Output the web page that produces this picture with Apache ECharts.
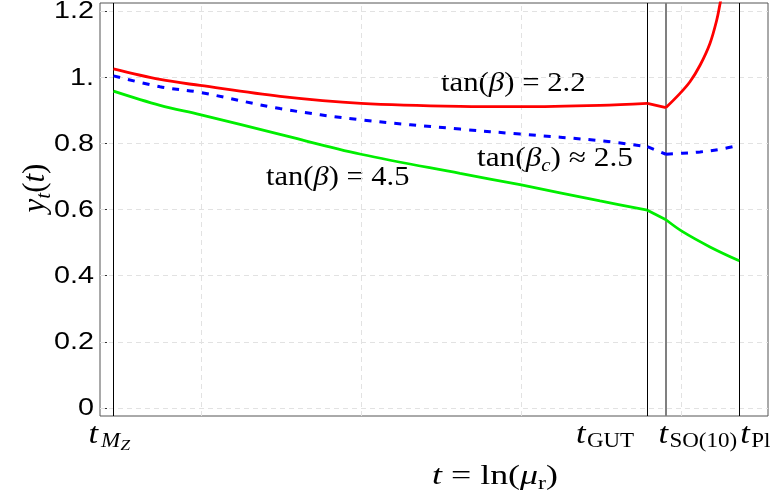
<!DOCTYPE html>
<html><head><meta charset="utf-8">
<script src="https://cdn.jsdelivr.net/npm/echarts@6/dist/echarts.min.js"></script>
<style>html,body{margin:0;padding:0;background:#fff}#c{width:783px;height:498px}</style>
</head><body><div id="c"></div>
<script>
// ---- data ----
const tMZ = 4.53, tGUT = 37.9, tSO10 = 39.06, tPl = 43.64;
const xMin = 3.6875, xMax = 45.4375;
const yMin = -0.0242, yMax = 1.2242;
const yTicks = [0, 0.2, 0.4, 0.6, 0.8, 1.0, 1.2];
const yTickLabels = ['0', '0.2', '0.4', '0.6', '0.8', '1.', '1.2'];
const xGridT = [10, 20, 30, 40];
const xTickT = [tMZ, tGUT, tSO10, tPl];

const redT = [4.53, 7.44, 9.94, 14.94, 20, 26.19, 29.94, 34.94, 37.9, 39.06, 39.94, 40.56, 41.19, 41.81, 42.23, 42.44, 42.6];
const redY = [1.025, 0.993, 0.975, 0.942, 0.921, 0.912, 0.911, 0.915, 0.921, 0.908, 0.951, 0.986, 1.036, 1.102, 1.172, 1.222, 1.26];

const blueT = [4.53, 7.44, 9.94, 14.94, 20, 26.19, 29.94, 34.94, 37.9, 39.06, 40.1, 41.19, 42.44, 43.64];
const blueY = [1.004, 0.971, 0.954, 0.905, 0.871, 0.843, 0.828, 0.808, 0.790, 0.767, 0.770, 0.774, 0.782, 0.794];

const greenT = [4.53, 7.44, 9.94, 14.94, 20, 26.19, 29.94, 34.94, 37.9, 39.06, 40.1, 41.81, 43.64];
const greenY = [0.958, 0.915, 0.887, 0.827, 0.767, 0.709, 0.675, 0.626, 0.598, 0.569, 0.533, 0.487, 0.445];

// ---- layout / styling ----
const SERIF = 'Liberation Serif';
const SANS = 'Liberation Sans';
const xTickParts = [
  [{s: 't', it: true, z: 30, dx: -25, dy: 19}, {s: 'M', it: true, z: 20, dx: -12.5, dy: 25.5}, {s: 'Z', it: true, z: 15, dx: 7, dy: 30.5}],
  [{s: 't', it: true, z: 30, dx: -71.5, dy: 19}, {s: 'GUT', it: false, z: 20, dx: -60.5, dy: 25.5}],
  [{s: 't', it: true, z: 30, dx: -7.5, dy: 19}, {s: 'SO(10)', it: false, z: 20, dx: 3.5, dy: 25.5}],
  [{s: 't', it: true, z: 30, dx: 1, dy: 19}, {s: 'Pl', it: false, z: 20, dx: 12, dy: 25.5}]
];
const TICK_SCALE = 1.15;

const richStyles = {
  r: {fontFamily: SERIF, fontSize: 27, verticalAlign: 'middle'},
  i: {fontFamily: SERIF, fontSize: 27, fontStyle: 'italic', verticalAlign: 'middle'},
  si: {fontFamily: SERIF, fontSize: 18, fontStyle: 'italic', verticalAlign: 'middle', padding: [14, 0, 0, 0]},
  s: {fontFamily: SERIF, fontSize: 18, verticalAlign: 'middle', padding: [14, 0, 0, 0]}
};
const richY = {
  r: {fontFamily: SERIF, fontSize: 31, verticalAlign: 'middle'},
  i: {fontFamily: SERIF, fontSize: 31, fontStyle: 'italic', verticalAlign: 'middle'},
  si: {fontFamily: SERIF, fontSize: 21, fontStyle: 'italic', verticalAlign: 'middle', padding: [16, 0, 0, 0]}
};

const pair = (a, b) => a.map((v, i) => [v, b[i]]);
// split a curve at the threshold scales (kinks) into three pieces
function pieces(T, Y) {
  const pts = pair(T, Y);
  return [
    {d: pts.filter(p => p[0] <= tGUT + 1e-9), smooth: 0.35},
    {d: pts.filter(p => p[0] >= tGUT - 1e-9 && p[0] <= tSO10 + 1e-9), smooth: false},
    {d: pts.filter(p => p[0] >= tSO10 - 1e-9), smooth: 0.35}
  ];
}

const curves = [
  {name: 'tan(β)=4.5', T: greenT, Y: greenY, style: {color: '#00ee00', width: 2.8}},
  {name: 'tan(β)=2.2', T: redT, Y: redY, style: {color: '#ff0000', width: 2.8}},
  {name: 'tan(βc)≈2.5', T: blueT, Y: blueY, style: {color: '#0000ff', width: 3, type: [7, 8]}}
];
const curveSeries = [];
curves.forEach(c => {
  pieces(c.T, c.Y).forEach(pc => {
    curveSeries.push({name: c.name, type: 'line', data: pc.d, showSymbol: false, smooth: pc.smooth, z: 5,
      lineStyle: c.style, silent: true});
  });
});

const chart = echarts.init(document.getElementById('c'), null, {renderer: 'canvas'});

const hGrid = yTicks.map(v => ({yAxis: v}));
const vGrid = xGridT.map(v => ({xAxis: v}));
const vLines = [
  {xAxis: tMZ, lineStyle: {color: '#000', width: 1, type: 'solid'}},
  {xAxis: tGUT, lineStyle: {color: '#000', width: 1, type: 'solid'}},
  {xAxis: tSO10, lineStyle: {color: '#808080', width: 2, type: 'solid'}},
  {xAxis: tPl, lineStyle: {color: '#000', width: 1, type: 'solid'}}
];

chart.setOption({
  animation: false,
  grid: {left: 100, right: 15, top: 3, bottom: 82, show: true, borderColor: '#555', borderWidth: 1, backgroundColor: 'transparent'},
  xAxis: {type: 'value', min: xMin, max: xMax, axisLine: {show: false}, axisTick: {show: false}, axisLabel: {show: false}, splitLine: {show: false}},
  yAxis: {type: 'value', min: yMin, max: yMax,
    axisLine: {show: false},
    axisTick: {show: true, inside: true, length: 7, lineStyle: {color: '#333'}, customValues: yTicks},
    axisLabel: {show: false, customValues: yTicks},
    splitLine: {show: false}},
  graphic: [
    {type: 'text', x: 441, y: 84, scaleX: 1.14, style: {text: '{r|tan(}{i|β}{r|) = 2.2}', rich: richStyles, fill: '#000', verticalAlign: 'middle'}},
    {type: 'text', x: 477, y: 159, scaleX: 1.16, style: {text: '{r|tan(}{i|β}{si|c}{r|) ≈ 2.5}', rich: richStyles, fill: '#000', verticalAlign: 'middle'}},
    {type: 'text', x: 266, y: 178, scaleX: 1.13, style: {text: '{r|tan(}{i|β}{r|) = 4.5}', rich: richStyles, fill: '#000', verticalAlign: 'middle'}},
    {type: 'text', x: 432, y: 477, scaleX: 1.33, style: {text: '{i|t}{r| = ln(}{i|μ}{s|r}{r|)}', rich: richStyles, fill: '#000', verticalAlign: 'middle'}},
    {type: 'text', x: 36, y: 188, rotation: Math.PI / 2, style: {text: '{i|y}{si|t}{r|(}{i|t}{r|)}', rich: richY, fill: '#000', align: 'center', verticalAlign: 'middle'}}
  ],
  series: [
    {type: 'line', data: [], silent: true, z: 1,
      markLine: {silent: true, symbol: ['none', 'none'], label: {show: false},
        lineStyle: {color: '#e2e2e2', width: 1, type: [5, 4]}, data: hGrid.concat(vGrid)}},
    {type: 'line', data: [], silent: true, z: 2,
      markLine: {silent: true, symbol: ['none', 'none'], label: {show: false}, data: vLines}}
  ].concat(curveSeries).concat([
    {type: 'custom', coordinateSystem: 'cartesian2d', clip: false, silent: true, z: 6,
      data: yTicks.map((v, i) => [xMin, v, i]),
      renderItem: (params, api) => {
        const p = api.coord([api.value(0), api.value(1)]);
        return {type: 'text', x: p[0] - 6, y: p[1] + 1, scaleX: 1.25,
          style: {text: yTickLabels[api.value(2)], fontFamily: SANS, fontSize: 23, fill: '#000', align: 'right', verticalAlign: 'middle'}};
      }},
    {type: 'custom', coordinateSystem: 'cartesian2d', clip: false, silent: true, z: 6,
      data: xTickT.map((t, i) => [t, yMin, i]),
      renderItem: (params, api) => {
        const p = api.coord([api.value(0), api.value(1)]);
        const parts = xTickParts[api.value(2)];
        return {type: 'group', children: parts.map(q => ({type: 'text', x: p[0] + q.dx, y: p[1] + q.dy, scaleX: TICK_SCALE,
          style: {text: q.s, fontFamily: SERIF, fontStyle: q.it ? 'italic' : 'normal', fontSize: q.z, fill: '#000', align: 'left', verticalAlign: 'middle'}}))};
      }}
  ])
});
</script></body></html>
